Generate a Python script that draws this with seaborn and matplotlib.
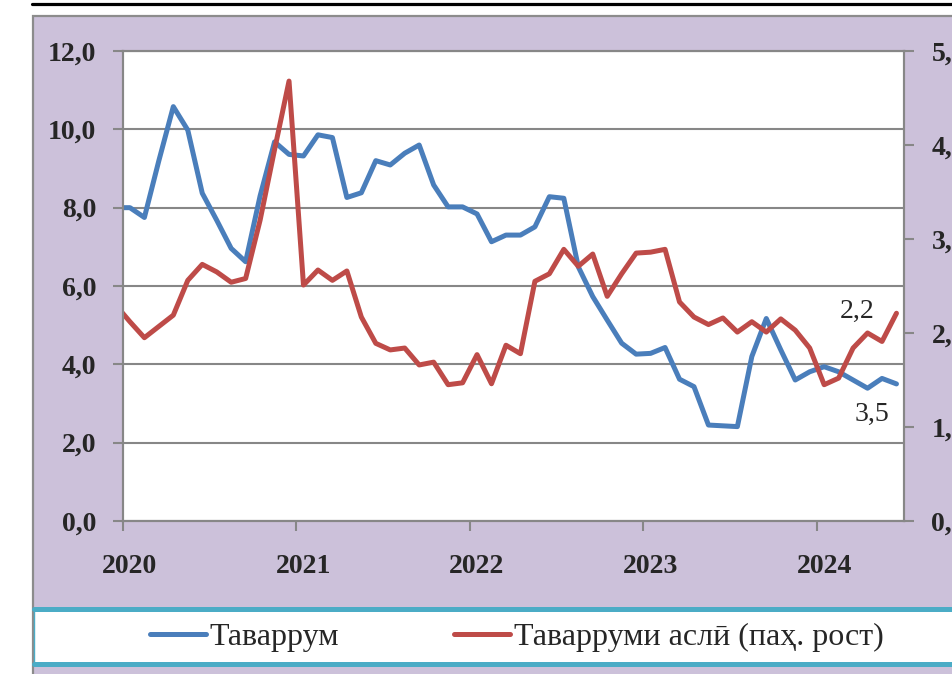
import numpy as np
import pandas as pd
import matplotlib
matplotlib.use("Agg")
import matplotlib.pyplot as plt
from matplotlib.patches import Rectangle
from matplotlib.lines import Line2D
import seaborn as sns

# ---- data (monthly, Dec 2019 .. Jun 2024) ----
months = pd.date_range("2019-12-01", "2024-06-01", freq="MS")
inflation = [8.0, 8.0, 7.75, 9.2, 10.58, 9.98, 8.37, 7.68, 6.96, 6.62, 8.3, 9.68,
             9.36, 9.32, 9.86, 9.79, 8.26, 8.38, 9.20, 9.09, 9.39, 9.60, 8.58, 8.02,
             8.02, 7.84, 7.13, 7.30, 7.30, 7.51, 8.28, 8.24, 6.49, 5.73, 5.13, 4.54,
             4.26, 4.28, 4.43, 3.62, 3.43, 2.45, 2.43, 2.41, 4.20, 5.17, 4.37, 3.60,
             3.81, 3.94, 3.81, 3.60, 3.39, 3.64, 3.50]
core_inflation = [2.30, 2.12, 1.95, 2.07, 2.19, 2.56, 2.73, 2.65, 2.54, 2.58, 3.20, 3.95,
                  4.68, 2.51, 2.67, 2.56, 2.66, 2.17, 1.89, 1.82, 1.84, 1.66, 1.69, 1.45,
                  1.47, 1.77, 1.46, 1.87, 1.78, 2.55, 2.63, 2.89, 2.71, 2.84, 2.39, 2.63,
                  2.85, 2.86, 2.89, 2.33, 2.17, 2.09, 2.16, 2.01, 2.12, 2.01, 2.15, 2.03,
                  1.84, 1.45, 1.52, 1.84, 2.00, 1.91, 2.21]
years = ["2020", "2021", "2022", "2023", "2024"]
left_ticks = [0, 2, 4, 6, 8, 10, 12]
right_ticks = [0, 1, 2, 3, 4, 5]
label_blue = "Таваррум"
label_red = "Таварруми аслӣ (паҳ. рост)"

# month position: Jan 2020 centred at 0.5
pos = (months.year - 2020) * 12 + (months.month - 1) + 0.5
df = pd.DataFrame({"pos": pos, "inflation": inflation, "core": core_inflation})

BLUE = "#4A7EBB"
RED = "#BE4B48"
GRAY = "#878787"
PURPLE = "#CCC1DA"
CYAN = "#4BACC6"

sns.set_style("white")
SERIF = ["Liberation Serif", "DejaVu Serif"]
plt.rcParams["font.family"] = SERIF

W, H = 953, 674
fig = plt.figure(figsize=(W / 100, H / 100), dpi=100)
fig.patch.set_facecolor("white")

def fx(px):
    return px / W

def fy(py):
    return 1 - py / H

# outer purple panel
fig.patches.append(Rectangle((fx(33), -0.05), 1.2, fy(16) + 0.05, transform=fig.transFigure,
                             facecolor=PURPLE, edgecolor="#8C8C8C", linewidth=1.6, zorder=-5))
# top black rule
fig.lines.append(Line2D([fx(32), 1.0], [fy(3.5), fy(3.5)], transform=fig.transFigure,
                        color="black", linewidth=2.3, zorder=-4))
# legend box
fig.patches.append(Rectangle((fx(34.5), fy(664)), 1.2, fy(609) - fy(664), transform=fig.transFigure,
                             facecolor="white", edgecolor=CYAN, linewidth=1.0, zorder=-3))
for yy in (609.2, 664.2):
    fig.lines.append(Line2D([fx(34), 1.0], [fy(yy), fy(yy)], transform=fig.transFigure,
                            color=CYAN, linewidth=3.6, zorder=-2))

ax = fig.add_axes([fx(122.7), fy(521), fx(903.7) - fx(122.7), fy(51) - fy(521)])
ax.set_facecolor("white")
ax2 = ax.twinx()
ax2.set_facecolor("none")

sns.lineplot(data=df, x="pos", y="inflation", ax=ax, color=BLUE, linewidth=3.6,
             solid_joinstyle="round", solid_capstyle="round", legend=False)
sns.lineplot(data=df, x="pos", y="core", ax=ax2, color=RED, linewidth=3.6,
             solid_joinstyle="round", solid_capstyle="round", legend=False)

ax.set_xlim(0, 54)
ax.set_ylim(0, 12)
ax2.set_ylim(0, 5)

tick_font = dict(family=SERIF, size=20, weight="bold")

ax.set_yticks(left_ticks)
ax.set_yticklabels([f"{v:.1f}".replace(".", ",") for v in left_ticks], fontdict=tick_font)
ax2.set_yticks(right_ticks)
ax2.set_yticklabels([f"{v:.1f}".replace(".", ",") for v in right_ticks], fontdict=tick_font)

ax.set_xticks([12 * i for i in range(len(years))])
ax.set_xticklabels([])
ax.set_xticks([12 * i + 0.5 for i in range(len(years))], minor=True)
ax.set_xticklabels(years, minor=True, fontdict=tick_font)
ax.tick_params(axis="x", which="major", direction="out", length=7, width=1.5, color=GRAY, bottom=True)
ax.tick_params(axis="x", which="minor", length=0, pad=24)
ax.tick_params(axis="y", direction="out", length=7, width=1.5, color=GRAY, pad=12, left=True)
ax2.tick_params(axis="y", direction="out", length=7, width=1.5, color=GRAY, pad=13, right=True)

ax.set_xlabel("")
ax.set_ylabel("")
ax2.set_ylabel("")

ax.grid(axis="y", color=GRAY, linewidth=1.5)
ax.grid(axis="x", visible=False)
ax.set_axisbelow(True)
for a in (ax, ax2):
    for s in a.spines.values():
        s.set_color(GRAY)
        s.set_linewidth(1.5)

# end-value labels
ax2.annotate(f"{core_inflation[-1]:.1f}".replace(".", ","), xy=(df["pos"].iloc[-1], core_inflation[-1]),
             xytext=(-28, 1), textcoords="offset points", ha="center", va="center",
             fontsize=20, family=SERIF)
ax.annotate(f"{inflation[-1]:.1f}".replace(".", ","), xy=(df["pos"].iloc[-1], inflation[-1]),
            xytext=(-17.5, -21.6), textcoords="offset points", ha="center", va="center",
            fontsize=20, family=SERIF)

handles = [Line2D([], [], color=BLUE, linewidth=3.6, solid_capstyle="round"),
           Line2D([], [], color=RED, linewidth=3.6, solid_capstyle="round")]
fig.legend(handles, [label_blue, label_red], loc="center left", bbox_to_anchor=(fx(150), fy(637)),
           ncol=2, frameon=False, prop=dict(family=SERIF, size=23), handlelength=1.75,
           handletextpad=0.12, columnspacing=3.6, borderpad=0, borderaxespad=0)

fig.savefig("out.png", dpi=100)
